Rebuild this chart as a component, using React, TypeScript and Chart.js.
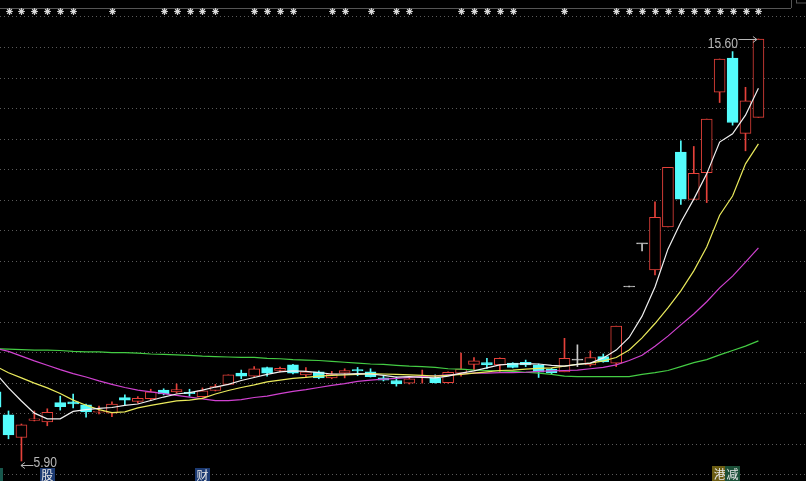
import React, { useEffect, useRef } from 'react';
import { Chart, registerables } from 'chart.js';

Chart.register(...registerables);

// ---- candle data (index -1 is the partly visible candle at the left edge) ----
const opens = [
  7.49, 6.96, 6.44, 6.83, 6.80, 7.24, 7.26, 7.19, 7.02, 7.00,
  7.36, 7.27, 7.33, 7.53, 7.49, 7.48, 7.38, 7.52, 7.66, 7.92,
  7.85, 8.05, 7.98, 8.11, 7.88, 7.95, 7.81, 7.92, 8.00, 7.95,
  7.81, 7.75, 7.69, 7.82, 7.80, 7.70, 7.92, 8.12, 8.16, 8.11,
  8.15, 8.17, 8.11, 8.01, 7.95, 8.22, 8.11, 8.30, 8.15, 9.90,
  10.89, 10.29, 11.28, 13.00, 11.91, 12.53, 14.38, 15.16, 13.43, 13.80,
];
const highs = [
  7.55, 7.05, 6.75, 7.05, 7.10, 7.39, 7.44, 7.21, 7.16, 7.26,
  7.42, 7.38, 7.55, 7.56, 7.67, 7.55, 7.58, 7.66, 7.88, 7.99,
  8.07, 8.06, 8.06, 8.12, 8.05, 7.97, 7.96, 8.02, 8.05, 8.02,
  7.85, 7.83, 7.80, 7.99, 7.88, 7.95, 8.38, 8.28, 8.26, 8.27,
  8.16, 8.22, 8.13, 8.03, 8.72, 8.57, 8.43, 8.36, 9.00, 9.90,
  10.89, 11.86, 12.65, 13.26, 13.13, 13.76, 15.14, 15.31, 14.49, 15.60,
];
const lows = [
  7.10, 6.41, 5.90, 6.82, 6.71, 7.07, 7.12, 6.91, 6.98, 6.92,
  7.19, 7.23, 7.30, 7.42, 7.46, 7.39, 7.37, 7.51, 7.65, 7.79,
  7.84, 7.85, 7.95, 7.90, 7.84, 7.79, 7.79, 7.81, 7.86, 7.83,
  7.74, 7.62, 7.67, 7.69, 7.69, 7.69, 7.85, 7.99, 8.03, 7.93,
  8.04, 8.07, 7.82, 7.90, 7.95, 8.07, 8.08, 8.17, 8.07, 9.90,
  10.73, 10.18, 11.28, 11.80, 11.90, 11.84, 14.14, 13.62, 13.03, 13.80,
];
const closes = [
  7.14, 6.50, 6.73, 6.87, 7.02, 7.15, 7.21, 7.03, 7.04, 7.21,
  7.30, 7.34, 7.49, 7.44, 7.54, 7.45, 7.51, 7.61, 7.88, 7.85,
  8.02, 7.92, 8.03, 7.92, 7.95, 7.81, 7.90, 7.98, 7.97, 7.84,
  7.76, 7.67, 7.79, 7.84, 7.70, 7.94, 8.01, 8.20, 8.11, 8.26,
  8.05, 8.11, 7.94, 7.93, 8.26, 8.22, 8.28, 8.18, 9.00, 9.90,
  10.89, 11.50, 12.65, 11.92, 12.51, 13.76, 15.14, 13.68, 14.18, 15.60,
];

// ---- moving averages ----
const ma5 = [
  7.92, 7.58, 7.28, 7.00, 6.87, 6.87, 7.04, 7.08, 7.11, 7.13,
  7.18, 7.21, 7.29, 7.37, 7.44, 7.47, 7.53, 7.60, 7.66, 7.75,
  7.82, 7.89, 7.95, 7.97, 7.96, 7.93, 7.90, 7.90, 7.91, 7.90,
  7.87, 7.83, 7.84, 7.82, 7.81, 7.85, 7.92, 7.97, 8.04, 8.11,
  8.13, 8.14, 8.13, 8.10, 8.08, 8.12, 8.15, 8.27, 8.45, 8.74,
  9.23, 9.90, 10.77, 11.39, 11.92, 12.50, 13.23, 13.42, 13.85, 14.47,
];
const ma10 = [
  8.08, 7.93, 7.81, 7.69, 7.58, 7.45, 7.30, 7.18, 7.08, 7.01,
  7.03, 7.12, 7.18, 7.23, 7.28, 7.30, 7.34, 7.44, 7.52, 7.59,
  7.65, 7.72, 7.76, 7.80, 7.82, 7.85, 7.87, 7.88, 7.89, 7.91,
  7.90, 7.89, 7.88, 7.87, 7.85, 7.87, 7.89, 7.92, 7.95, 7.98,
  7.99, 8.01, 8.03, 8.04, 8.08, 8.12, 8.15, 8.20, 8.28, 8.45,
  8.73, 9.06, 9.42, 9.81, 10.27, 10.82, 11.55, 11.99, 12.73, 13.19,
];
const ma20 = [
  8.49, 8.42, 8.31, 8.20, 8.10, 8.00, 7.91, 7.83, 7.74, 7.66,
  7.59, 7.53, 7.49, 7.45, 7.41, 7.37, 7.33, 7.29, 7.29, 7.31,
  7.36, 7.39, 7.45, 7.50, 7.54, 7.59, 7.64, 7.68, 7.73, 7.76,
  7.78, 7.80, 7.82, 7.84, 7.86, 7.88, 7.90, 7.92, 7.92, 7.93,
  7.93, 7.94, 7.96, 7.97, 7.98, 7.99, 8.02, 8.05, 8.11, 8.21,
  8.33, 8.54, 8.77, 9.03, 9.28, 9.56, 9.88, 10.15, 10.47, 10.80,
];
const ma60 = [
  8.48, 8.47, 8.46, 8.45, 8.45, 8.44, 8.42, 8.41, 8.41, 8.39,
  8.39, 8.38, 8.36, 8.35, 8.34, 8.33, 8.31, 8.30, 8.29, 8.28,
  8.28, 8.26, 8.25, 8.23, 8.22, 8.21, 8.19, 8.17, 8.15, 8.13,
  8.12, 8.10, 8.08, 8.07, 8.05, 8.02, 8.01, 7.99, 7.98, 7.97,
  7.96, 7.94, 7.92, 7.89, 7.85, 7.84, 7.84, 7.84, 7.84, 7.84,
  7.89, 7.93, 7.98, 8.07, 8.16, 8.23, 8.34, 8.44, 8.54, 8.66,
];

// ---- price gridlines (dotted) ----
const gridLevels = [
  16.106, 15.404, 14.702, 14.0, 13.299, 12.597, 11.895, 11.194,
  10.492, 9.79, 9.088, 8.386, 7.685, 6.983, 6.281, 5.579,
];

// ---- top star markers (candle indices) ----
const starIdx = [
  0, 1, 2, 3, 4, 5, 8, 12, 13, 14, 15, 16, 19, 20, 21, 22, 25, 26, 28, 30, 31,
  35, 36, 37, 38, 39, 43, 47, 48, 49, 50, 51, 52, 53, 54, 55, 56, 57, 58,
];

// ---- bottom event markers ----
const markerIdx = [-1, 3, 15, 55, 56];
const markerText = ['', '股', '财', '港', '减'];
const markerBg = ['#17574c', '#1c3a72', '#1c3a72', '#6b5c12', '#1a4e36'];

const X_MIN = -0.6574;
const X_MAX = 61.679;
const Y_MIN = 5.4402;
const Y_MAX = 16.4965;

const RED = '#e5413a';
const CYAN = '#54fcfc';
const GRAY = '#c8c8c8';
const LABEL = '#b8b8b8';

export default function App() {
  const ref = useRef<HTMLCanvasElement>(null);

  useEffect(() => {
    const xs = opens.map((_, i) => i - 1);
    const colorOf = (i: number) =>
      closes[i] > opens[i] ? RED : closes[i] < opens[i] ? CYAN : GRAY;
    const colors = xs.map((_, i) => colorOf(i));
    const fills = xs.map((_, i) => (colorOf(i) === RED ? '#000000' : colorOf(i)));

    const overlay = {
      id: 'overlay',
      afterDatasetsDraw(chart: any) {
        const ctx = chart.ctx as CanvasRenderingContext2D;
        const xS = chart.scales.x;
        const yS = chart.scales.y;
        ctx.save();

        // header line
        ctx.strokeStyle = '#555555';
        ctx.lineWidth = 1;
        ctx.beginPath();
        ctx.moveTo(0, 8.5);
        ctx.lineTo(791, 8.5);
        ctx.moveTo(791.5, 0);
        ctx.lineTo(791.5, 8);
        ctx.stroke();
        ctx.strokeRect(796.5, -1, 12, 4);

        // stars
        ctx.strokeStyle = '#cfcfcf';
        ctx.fillStyle = '#d8d8d8';
        ctx.lineWidth = 1.2;
        starIdx.forEach((k) => {
          const cx = Math.round(xS.getPixelForValue(k)) + 0.5;
          const cy = 11.5;
          ctx.beginPath();
          for (let a = 0; a < 4; a++) {
            const ang = (a * Math.PI) / 4;
            const dx = Math.cos(ang) * 3.4;
            const dy = Math.sin(ang) * 3.4;
            ctx.moveTo(cx - dx, cy - dy);
            ctx.lineTo(cx + dx, cy + dy);
          }
          ctx.stroke();
          ctx.beginPath();
          ctx.arc(cx, cy, 2, 0, Math.PI * 2);
          ctx.fill();
        });
        ctx.lineWidth = 1;

        const narrowText = (t: string, x: number, y: number, align: CanvasTextAlign) => {
          ctx.save();
          ctx.translate(x, y);
          ctx.scale(0.86, 1);
          ctx.textAlign = align;
          ctx.textBaseline = 'alphabetic';
          ctx.fillText(t, 0, 0);
          ctx.restore();
        };

        ctx.font = '14px "Liberation Sans", Arial, sans-serif';
        ctx.fillStyle = LABEL;
        ctx.strokeStyle = LABEL;

        // highest price label
        let hi = 0;
        highs.forEach((v, i) => { if (v > highs[hi]) hi = i; });
        const hx = xS.getPixelForValue(xs[hi]);
        const hy = Math.round(yS.getPixelForValue(highs[hi])) + 0.5;
        narrowText(highs[hi].toFixed(2), hx - 20.5, hy + 8, 'right');
        ctx.beginPath();
        ctx.moveTo(hx - 20, hy);
        ctx.lineTo(hx - 1.5, hy);
        ctx.moveTo(hx - 1.5, hy);
        ctx.lineTo(hx - 5.5, hy - 3);
        ctx.moveTo(hx - 1.5, hy);
        ctx.lineTo(hx - 5.5, hy + 3);
        ctx.stroke();

        // lowest price label
        let lo = 0;
        lows.forEach((v, i) => { if (v < lows[lo]) lo = i; });
        const lx = xS.getPixelForValue(xs[lo]);
        const ly = Math.round(yS.getPixelForValue(lows[lo])) + 4.5;
        ctx.beginPath();
        ctx.moveTo(lx - 0.5, ly);
        ctx.lineTo(lx + 12, ly);
        ctx.moveTo(lx - 0.5, ly);
        ctx.lineTo(lx + 3.5, ly - 3);
        ctx.moveTo(lx - 0.5, ly);
        ctx.lineTo(lx + 3.5, ly + 3);
        ctx.stroke();
        narrowText(lows[lo].toFixed(2), lx + 12, ly + 1, 'left');

        // bottom event markers
        ctx.font = '12px "Noto Sans CJK SC", sans-serif';
        ctx.textAlign = 'center';
        ctx.textBaseline = 'middle';
        markerIdx.forEach((k, i) => {
          const cx = xS.getPixelForValue(k);
          const top = k > 40 ? 466 : 468;
          ctx.fillStyle = markerBg[i];
          ctx.fillRect(Math.round(cx - 7.5), top, 15, 481 - top);
          if (markerText[i]) {
            ctx.fillStyle = '#e6e6e6';
            ctx.fillText(markerText[i], cx, top + (481 - top) / 2 + 1);
          }
        });

        ctx.restore();
      },
    };

    const lineDs = (label: string, values: number[], color: string) => ({
      type: 'line' as const,
      label,
      data: xs.map((x, i) => ({ x, y: values[i] })),
      borderColor: color,
      borderWidth: 1.2,
      pointRadius: 0,
      tension: 0,
      order: 0,
    });

    const chart = new Chart(ref.current as HTMLCanvasElement, {
      type: 'bar',
      data: {
        datasets: [
          lineDs('MA5', ma5, '#f0f0f0'),
          lineDs('MA10', ma10, '#eaea5c'),
          lineDs('MA20', ma20, '#d042d0'),
          lineDs('MA60', ma60, '#44cc44'),
          {
            type: 'bar',
            label: 'body',
            data: xs.map((x, i) => ({ x, y: [opens[i], closes[i]] })) as any,
            backgroundColor: fills,
            borderColor: colors,
            borderWidth: 1,
            borderSkipped: false,
            barThickness: 11,
            minBarLength: 1,
            grouped: false,
            order: 1,
          } as any,
          {
            type: 'bar',
            label: 'wick',
            data: xs.map((x, i) => ({ x, y: [lows[i], highs[i]] })) as any,
            backgroundColor: colors,
            borderWidth: 0,
            barThickness: 1,
            minBarLength: 1,
            grouped: false,
            order: 2,
          } as any,
        ],
      },
      options: {
        responsive: false,
        animation: false,
        events: [],
        layout: { padding: 0 },
        plugins: { legend: { display: false }, tooltip: { enabled: false } },
        scales: {
          x: {
            type: 'linear',
            min: X_MIN,
            max: X_MAX,
            offset: false,
            display: false,
          },
          y: {
            type: 'linear',
            min: Y_MIN,
            max: Y_MAX,
            display: true,
            afterBuildTicks: (scale: any) => {
              scale.ticks = gridLevels.map((v) => ({ value: v }));
            },
            ticks: { display: false },
            grid: { color: '#5a5a5a', lineWidth: 1, drawTicks: false },
            border: { display: false, dash: [1, 3] },
          },
        },
      } as any,
      plugins: [overlay],
    });
    return () => chart.destroy();
  }, []);

  return (
    <div
      style={{
        position: 'fixed',
        left: 0,
        top: 0,
        width: 806,
        height: 481,
        background: '#000',
        overflow: 'hidden',
      }}
    >
      <canvas ref={ref} width={806} height={481} style={{ display: 'block' }} />
    </div>
  );
}
